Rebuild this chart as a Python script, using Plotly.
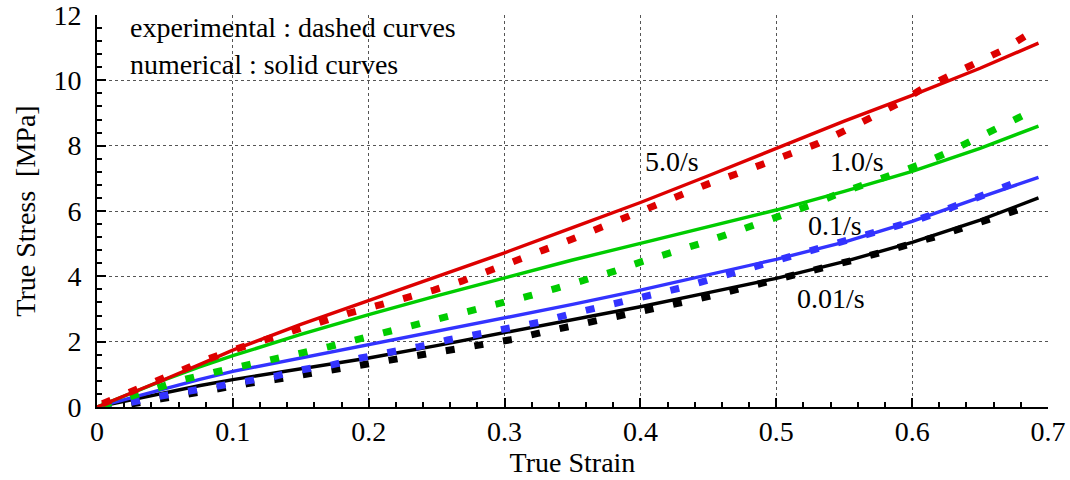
import plotly.graph_objects as go

# ---- experimental data (dashed curves) ----
exp_001_strain = [0.004, 0.025, 0.047, 0.067, 0.089, 0.110, 0.131, 0.153, 0.174, 0.196, 0.217,
                  0.239, 0.260, 0.281, 0.306, 0.327, 0.348, 0.370, 0.391, 0.412, 0.433, 0.455,
                  0.475, 0.497, 0.518, 0.538, 0.559, 0.581, 0.601, 0.622, 0.642, 0.664, 0.685]
exp_001_stress = [0.00, 0.09, 0.25, 0.41, 0.57, 0.71, 0.84, 0.99, 1.14, 1.29, 1.43,
                  1.60, 1.75, 1.90, 2.07, 2.28, 2.46, 2.64, 2.82, 3.02, 3.22, 3.43,
                  3.63, 3.86, 4.07, 4.30, 4.52, 4.78, 5.01, 5.27, 5.55, 5.85, 6.13]

exp_01_strain = [0.004, 0.025, 0.046, 0.067, 0.088, 0.109, 0.131, 0.151, 0.173, 0.194, 0.216,
                 0.237, 0.258, 0.280, 0.304, 0.325, 0.346, 0.368, 0.389, 0.410, 0.431, 0.452,
                 0.473, 0.494, 0.514, 0.535, 0.556, 0.577, 0.597, 0.618, 0.639, 0.658, 0.678]
exp_01_stress = [0.02, 0.14, 0.33, 0.48, 0.63, 0.78, 0.94, 1.14, 1.29, 1.50, 1.67,
                 1.85, 2.05, 2.23, 2.41, 2.59, 2.82, 3.02, 3.22, 3.45, 3.66, 3.91,
                 4.14, 4.38, 4.62, 4.86, 5.11, 5.37, 5.64, 5.93, 6.26, 6.57, 6.90]

exp_1_strain = [0.004, 0.024, 0.044, 0.064, 0.086, 0.107, 0.129, 0.150, 0.171, 0.191, 0.212,
                0.234, 0.254, 0.275, 0.295, 0.318, 0.338, 0.360, 0.381, 0.401, 0.422, 0.443,
                0.463, 0.484, 0.504, 0.524, 0.544, 0.564, 0.585, 0.605, 0.625, 0.644, 0.663, 0.683]
exp_1_stress = [0.05, 0.32, 0.60, 0.84, 1.06, 1.27, 1.47, 1.65, 1.85, 2.06, 2.26,
                2.48, 2.72, 2.92, 3.13, 3.40, 3.63, 3.89, 4.16, 4.45, 4.70, 4.99,
                5.27, 5.57, 5.88, 6.16, 6.50, 6.80, 7.09, 7.41, 7.77, 8.17, 8.56, 8.95]

exp_5_strain = [0.004, 0.023, 0.042, 0.062, 0.082, 0.102, 0.123, 0.144, 0.164, 0.185, 0.206,
                0.227, 0.248, 0.269, 0.289, 0.310, 0.329, 0.349, 0.369, 0.390, 0.410, 0.430,
                0.450, 0.471, 0.491, 0.511, 0.531, 0.550, 0.570, 0.589, 0.607, 0.627, 0.646,
                0.666, 0.684]
exp_5_stress = [0.10, 0.43, 0.78, 1.14, 1.47, 1.77, 2.06, 2.35, 2.62, 2.87, 3.10,
                3.33, 3.58, 3.86, 4.16, 4.48, 4.81, 5.13, 5.47, 5.83, 6.15, 6.50,
                6.83, 7.14, 7.44, 7.77, 8.07, 8.45, 8.86, 9.27, 9.73, 10.13, 10.54,
                10.91, 11.37]

# ---- numerical results (solid curves) ----
num_strain = [0, 0.025, 0.05, 0.075, 0.1, 0.15, 0.2, 0.25, 0.3, 0.35, 0.4, 0.45,
              0.5, 0.55, 0.6, 0.65, 0.693]
num_001_stress = [0, 0.22, 0.45, 0.65, 0.84, 1.17, 1.50, 1.88, 2.27, 2.66, 3.07, 3.50,
                  3.94, 4.45, 5.04, 5.72, 6.40]
num_01_stress = [0, 0.28, 0.57, 0.84, 1.09, 1.50, 1.91, 2.31, 2.72, 3.14, 3.58, 4.05,
                 4.52, 5.05, 5.68, 6.42, 7.03]
num_1_stress = [0, 0.42, 0.84, 1.22, 1.57, 2.22, 2.83, 3.40, 3.95, 4.50, 5.01, 5.52,
                6.03, 6.60, 7.21, 7.92, 8.60]
num_5_stress = [0, 0.42, 0.85, 1.29, 1.74, 2.53, 3.26, 4.00, 4.72, 5.49, 6.26, 7.08,
                7.92, 8.75, 9.54, 10.37, 11.14]

# strain-rate labels placed next to the curves
rate_labels = ["5.0/s", "1.0/s", "0.1/s", "0.01/s"]
label_x = [0.402, 0.538, 0.522, 0.514]
label_y = [7.51, 7.51, 5.57, 3.33]

BLACK = "#000000"
BLUE = "#3333ff"
GREEN = "#00cc00"
RED = "#dd0000"
FONT = "Liberation Serif"
FS = 28

series = [
    (exp_001_strain, exp_001_stress, num_strain, num_001_stress, BLACK),
    (exp_01_strain, exp_01_stress, num_strain, num_01_stress, BLUE),
    (exp_1_strain, exp_1_stress, num_strain, num_1_stress, GREEN),
    (exp_5_strain, exp_5_stress, num_strain, num_5_stress, RED),
]

fig = go.Figure()
for ex, ey, nx, ny, col in series:
    fig.add_trace(go.Scatter(x=ex, y=ey, mode="lines",
                             line=dict(color=col, width=7, dash="9px,20px"),
                             showlegend=False, hoverinfo="skip"))
    fig.add_trace(go.Scatter(x=nx, y=ny, mode="lines",
                             line=dict(color=col, width=3.4),
                             showlegend=False, hoverinfo="skip"))

for txt, lx, ly in zip(rate_labels, label_x, label_y):
    fig.add_annotation(x=lx, y=ly, text=txt, showarrow=False, xanchor="left",
                       yanchor="middle", font=dict(family=FONT, size=FS, color="black"))

fig.add_annotation(x=0.023, y=11.63, text="experimental : dashed curves", showarrow=False,
                   xanchor="left", yanchor="middle",
                   font=dict(family=FONT, size=FS, color="black"))
fig.add_annotation(x=0.023, y=10.47, text="numerical : solid curves", showarrow=False,
                   xanchor="left", yanchor="middle",
                   font=dict(family=FONT, size=FS, color="black"))

axis_common = dict(
    showline=True, linecolor="black", linewidth=2, mirror=False, automargin=False,
    showgrid=True, gridcolor="#555555", gridwidth=1, griddash="dot",
    zeroline=False, ticks="inside", tickcolor="black", tickwidth=1.5, ticklen=9,
    tickfont=dict(family=FONT, size=FS, color="black"), ticklabeloverflow="allow",
)

fig.update_xaxes(range=[0, 0.7], dtick=0.1, tick0=0,
                 minor=dict(dtick=0.02, ticks="inside", ticklen=5, tickcolor="black",
                            showgrid=False),
                 ticklabelstandoff=-2,
                 title=dict(text="True Strain", standoff=2,
                            font=dict(family=FONT, size=FS, color="black")),
                 **axis_common)
fig.update_yaxes(range=[0, 12], dtick=2, tick0=0,
                 minor=dict(dtick=0.4, ticks="inside", ticklen=5, tickcolor="black",
                            showgrid=False),
                 ticklabelstandoff=8,
                 title=dict(text="True Stress  [MPa]", standoff=10,
                            font=dict(family=FONT, size=FS, color="black")),
                 **axis_common)

fig.update_layout(
    width=1070, height=480,
    margin=dict(l=97, r=22, t=15, b=73),
    paper_bgcolor="white", plot_bgcolor="white",
    font=dict(family=FONT, size=FS, color="black"),
)

fig.write_html("out.html")
